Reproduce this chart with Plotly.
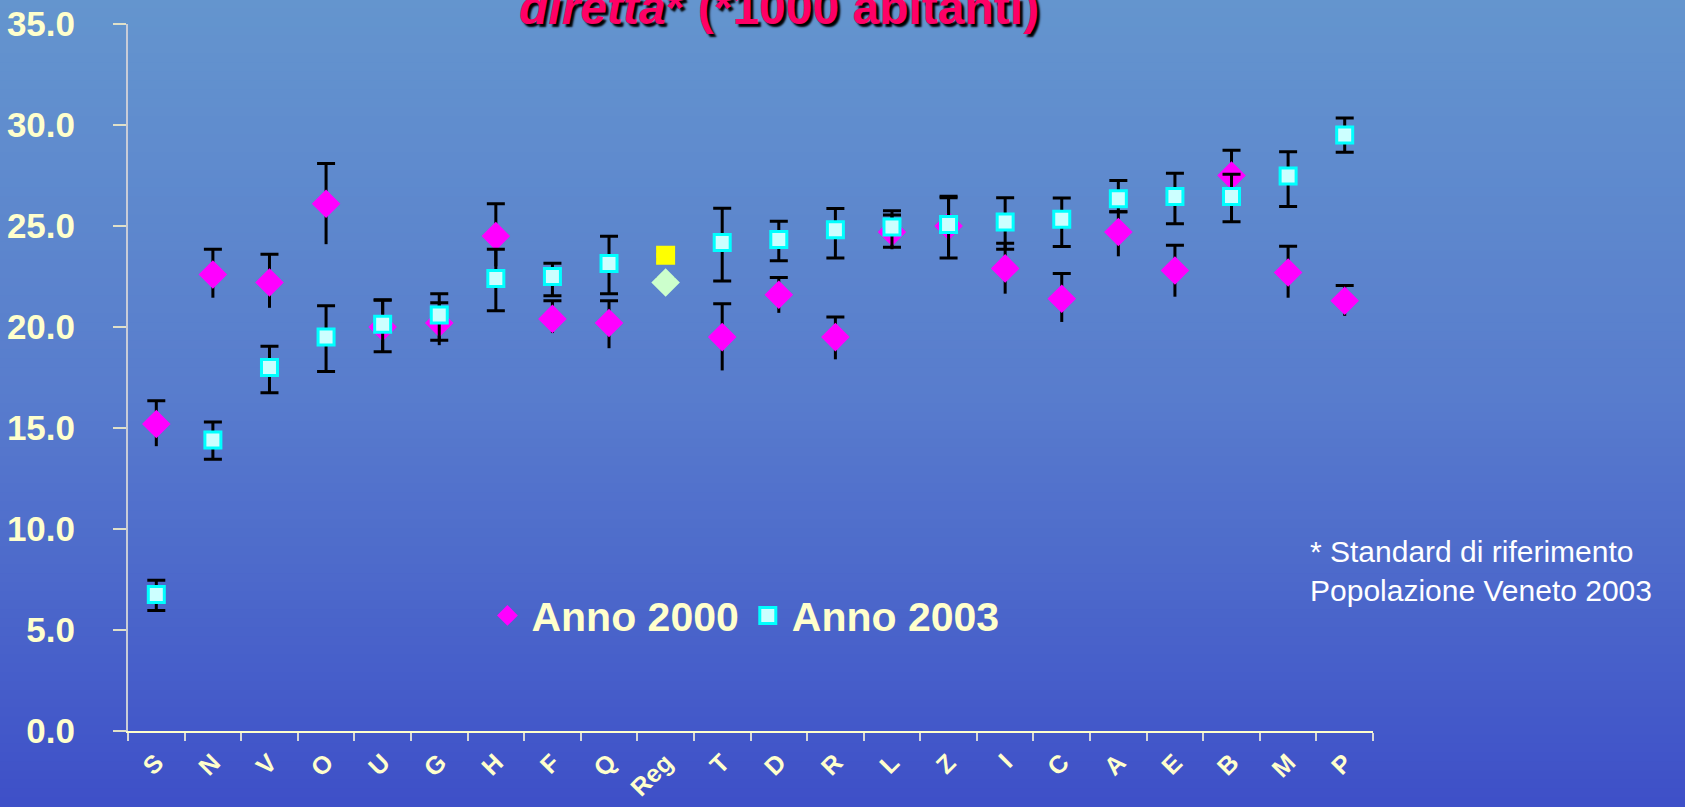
import plotly.graph_objs as go

# categories (ULSS) and rates per 1000 inhabitants
categories = ["S", "N", "V", "O", "U", "G", "H", "F", "Q", "Reg", "T",
              "D", "R", "L", "Z", "I", "C", "A", "E", "B", "M", "P"]

rate_2000 = [15.2, 22.6, 22.2, 26.1, 20.0, 20.2, 24.5, 20.4, 20.2, 22.2, 19.5,
             21.6, 19.5, 24.7, 25.0, 22.9, 21.4, 24.7, 22.8, 27.5, 22.7, 21.3]
err_up_2000 = [1.15, 1.25, 1.4, 2.0, 1.35, 1.0, 1.6, 0.9, 1.1, 0.2, 1.65,
               0.85, 1.0, 0.85, 1.4, 1.25, 1.25, 1.0, 1.25, 1.25, 1.3, 0.75]
err_dn_2000 = [1.1, 1.15, 1.25, 2.0, 1.25, 1.1, 1.5, 0.7, 1.25, 0.2, 1.65,
               0.9, 1.1, 0.85, 1.45, 1.25, 1.15, 1.2, 1.3, 1.2, 1.25, 0.75]

rate_2003 = [6.76, 14.4, 18.0, 19.5, 20.13, 20.6, 22.4, 22.5, 23.14, 23.55, 24.18,
             24.33, 24.82, 24.95, 25.07, 25.2, 25.33, 26.35, 26.46, 26.46, 27.47, 29.5]
err_up_2003 = [0.7, 0.9, 1.05, 1.55, 1.2, 1.05, 1.45, 0.65, 1.35, 0.2, 1.7,
               0.9, 1.05, 0.8, 1.4, 1.2, 1.05, 0.9, 1.15, 1.1, 1.2, 0.85]
err_dn_2003 = [0.8, 0.95, 1.25, 1.7, 1.35, 1.25, 1.6, 0.95, 1.5, 0.2, 1.9,
               1.05, 1.4, 1.0, 1.65, 1.35, 1.35, 0.65, 1.35, 1.25, 1.5, 0.85]

y_ticks = [0, 5, 10, 15, 20, 25, 30, 35]

FONT = "Arial, Liberation Sans, sans-serif"
CREAM = "#FFFFCC"

diamond_colors = ["#CCFFCC" if c == "Reg" else "#FF00FF" for c in categories]
square_fill = ["#FFFF00" if c == "Reg" else "#CCFFFF" for c in categories]
square_line = ["#FFFF00" if c == "Reg" else "#00FFFF" for c in categories]
zeros = [0] * len(categories)

fig = go.Figure()

# lower part of the 2000 bars has no cap
fig.add_trace(go.Scatter(
    x=categories, y=rate_2000, mode="markers",
    marker=dict(size=1, color="rgba(0,0,0,0)"),
    error_y=dict(type="data", symmetric=False, array=zeros, arrayminus=err_dn_2000,
                 color="black", thickness=3, width=0),
    showlegend=False, hoverinfo="skip"
))

fig.add_trace(go.Scatter(
    x=categories, y=rate_2000, mode="markers", name="Anno 2000",
    marker=dict(symbol="diamond", size=22, color=diamond_colors, line=dict(width=0)),
    error_y=dict(type="data", symmetric=False, array=err_up_2000, arrayminus=zeros,
                 color="black", thickness=3, width=9)
))

fig.add_trace(go.Scatter(
    x=categories, y=rate_2003, mode="markers", name="Anno 2003",
    marker=dict(symbol="square", size=16, color=square_fill,
                line=dict(color=square_line, width=3)),
    error_y=dict(type="data", symmetric=False, array=err_up_2003, arrayminus=err_dn_2003,
                 color="black", thickness=3, width=9)
))

# background gradient as horizontal bands
W, H = 1685, 807
top_px, bot_px = 24, 731
span = bot_px - top_px
stops = [(0, (100, 149, 206)), (400, (88, 124, 205)), (807, (62, 80, 200))]
n_bands = 90
for i in range(n_bands):
    p0 = H * i / n_bands
    p1 = H * (i + 1) / n_bands
    pm = (p0 + p1) / 2
    for (a, ca), (b, cb) in zip(stops[:-1], stops[1:]):
        if a <= pm <= b:
            t = (pm - a) / (b - a)
            col = tuple(round(ca[k] + (cb[k] - ca[k]) * t) for k in range(3))
            break
    fig.add_shape(type="rect", xref="paper", yref="paper", layer="below",
                  x0=-0.2, x1=1.4,
                  y0=(bot_px - p1 - 0.5) / span, y1=(bot_px - p0 + 0.5) / span,
                  line=dict(width=0), fillcolor="rgb(%d,%d,%d)" % col)

fig.update_layout(
    width=W, height=H,
    paper_bgcolor="rgb(62,80,200)",
    plot_bgcolor="rgba(0,0,0,0)",
    margin=dict(l=128, r=312, t=24, b=76),
    font=dict(family=FONT, color=CREAM),
    showlegend=True,
    legend=dict(
        orientation="h", x=0.2855, y=0.163, xanchor="left", yanchor="middle",
        bgcolor="rgba(0,0,0,0)", itemsizing="trace", itemwidth=38,
        font=dict(family=FONT, size=41, color=CREAM, weight="bold"),
    ),
    xaxis=dict(
        type="category", range=[-0.5, len(categories) - 0.5],
        showgrid=False, zeroline=False, automargin=False,
        showline=True, linecolor=CREAM, linewidth=2,
        ticks="outside", ticklen=8, tickwidth=2, tickcolor="#D8D8D8",
        tickson="boundaries", tickangle=-45, ticklabelstandoff=5,
        tickfont=dict(family=FONT, size=25, color=CREAM, weight="bold"),
    ),
    yaxis=dict(
        range=[0, 35], tickvals=y_ticks, tickformat=".1f",
        showgrid=False, zeroline=False, automargin=False,
        showline=True, linecolor="#C8CCD8", linewidth=2,
        ticks="outside", ticklen=13, tickwidth=2, tickcolor="#E0E0C8",
        ticklabelstandoff=31,
        tickfont=dict(family=FONT, size=35, color=CREAM, weight="bold"),
    ),
    annotations=[
        dict(text="<i>diretta</i>* (*1000 abitanti)",
             xref="paper", yref="paper", x=0.523, y=0.983,
             xanchor="center", yanchor="bottom", showarrow=False,
             font=dict(family=FONT, size=48, color="#FF0066", weight="bold",
                       shadow="3px 3px 2px #000000")),
        dict(text="* Standard di riferimento<br>Popolazione Veneto 2003",
             xref="paper", yref="paper", x=0.948, y=0.227,
             xanchor="left", yanchor="middle", align="left", showarrow=False,
             font=dict(family=FONT, size=30, color="white")),
    ],
)

fig.write_html("out.html", config={"displayModeBar": False},
               post_script="document.body.style.margin='0';"
                           "document.body.style.overflow='hidden';")
